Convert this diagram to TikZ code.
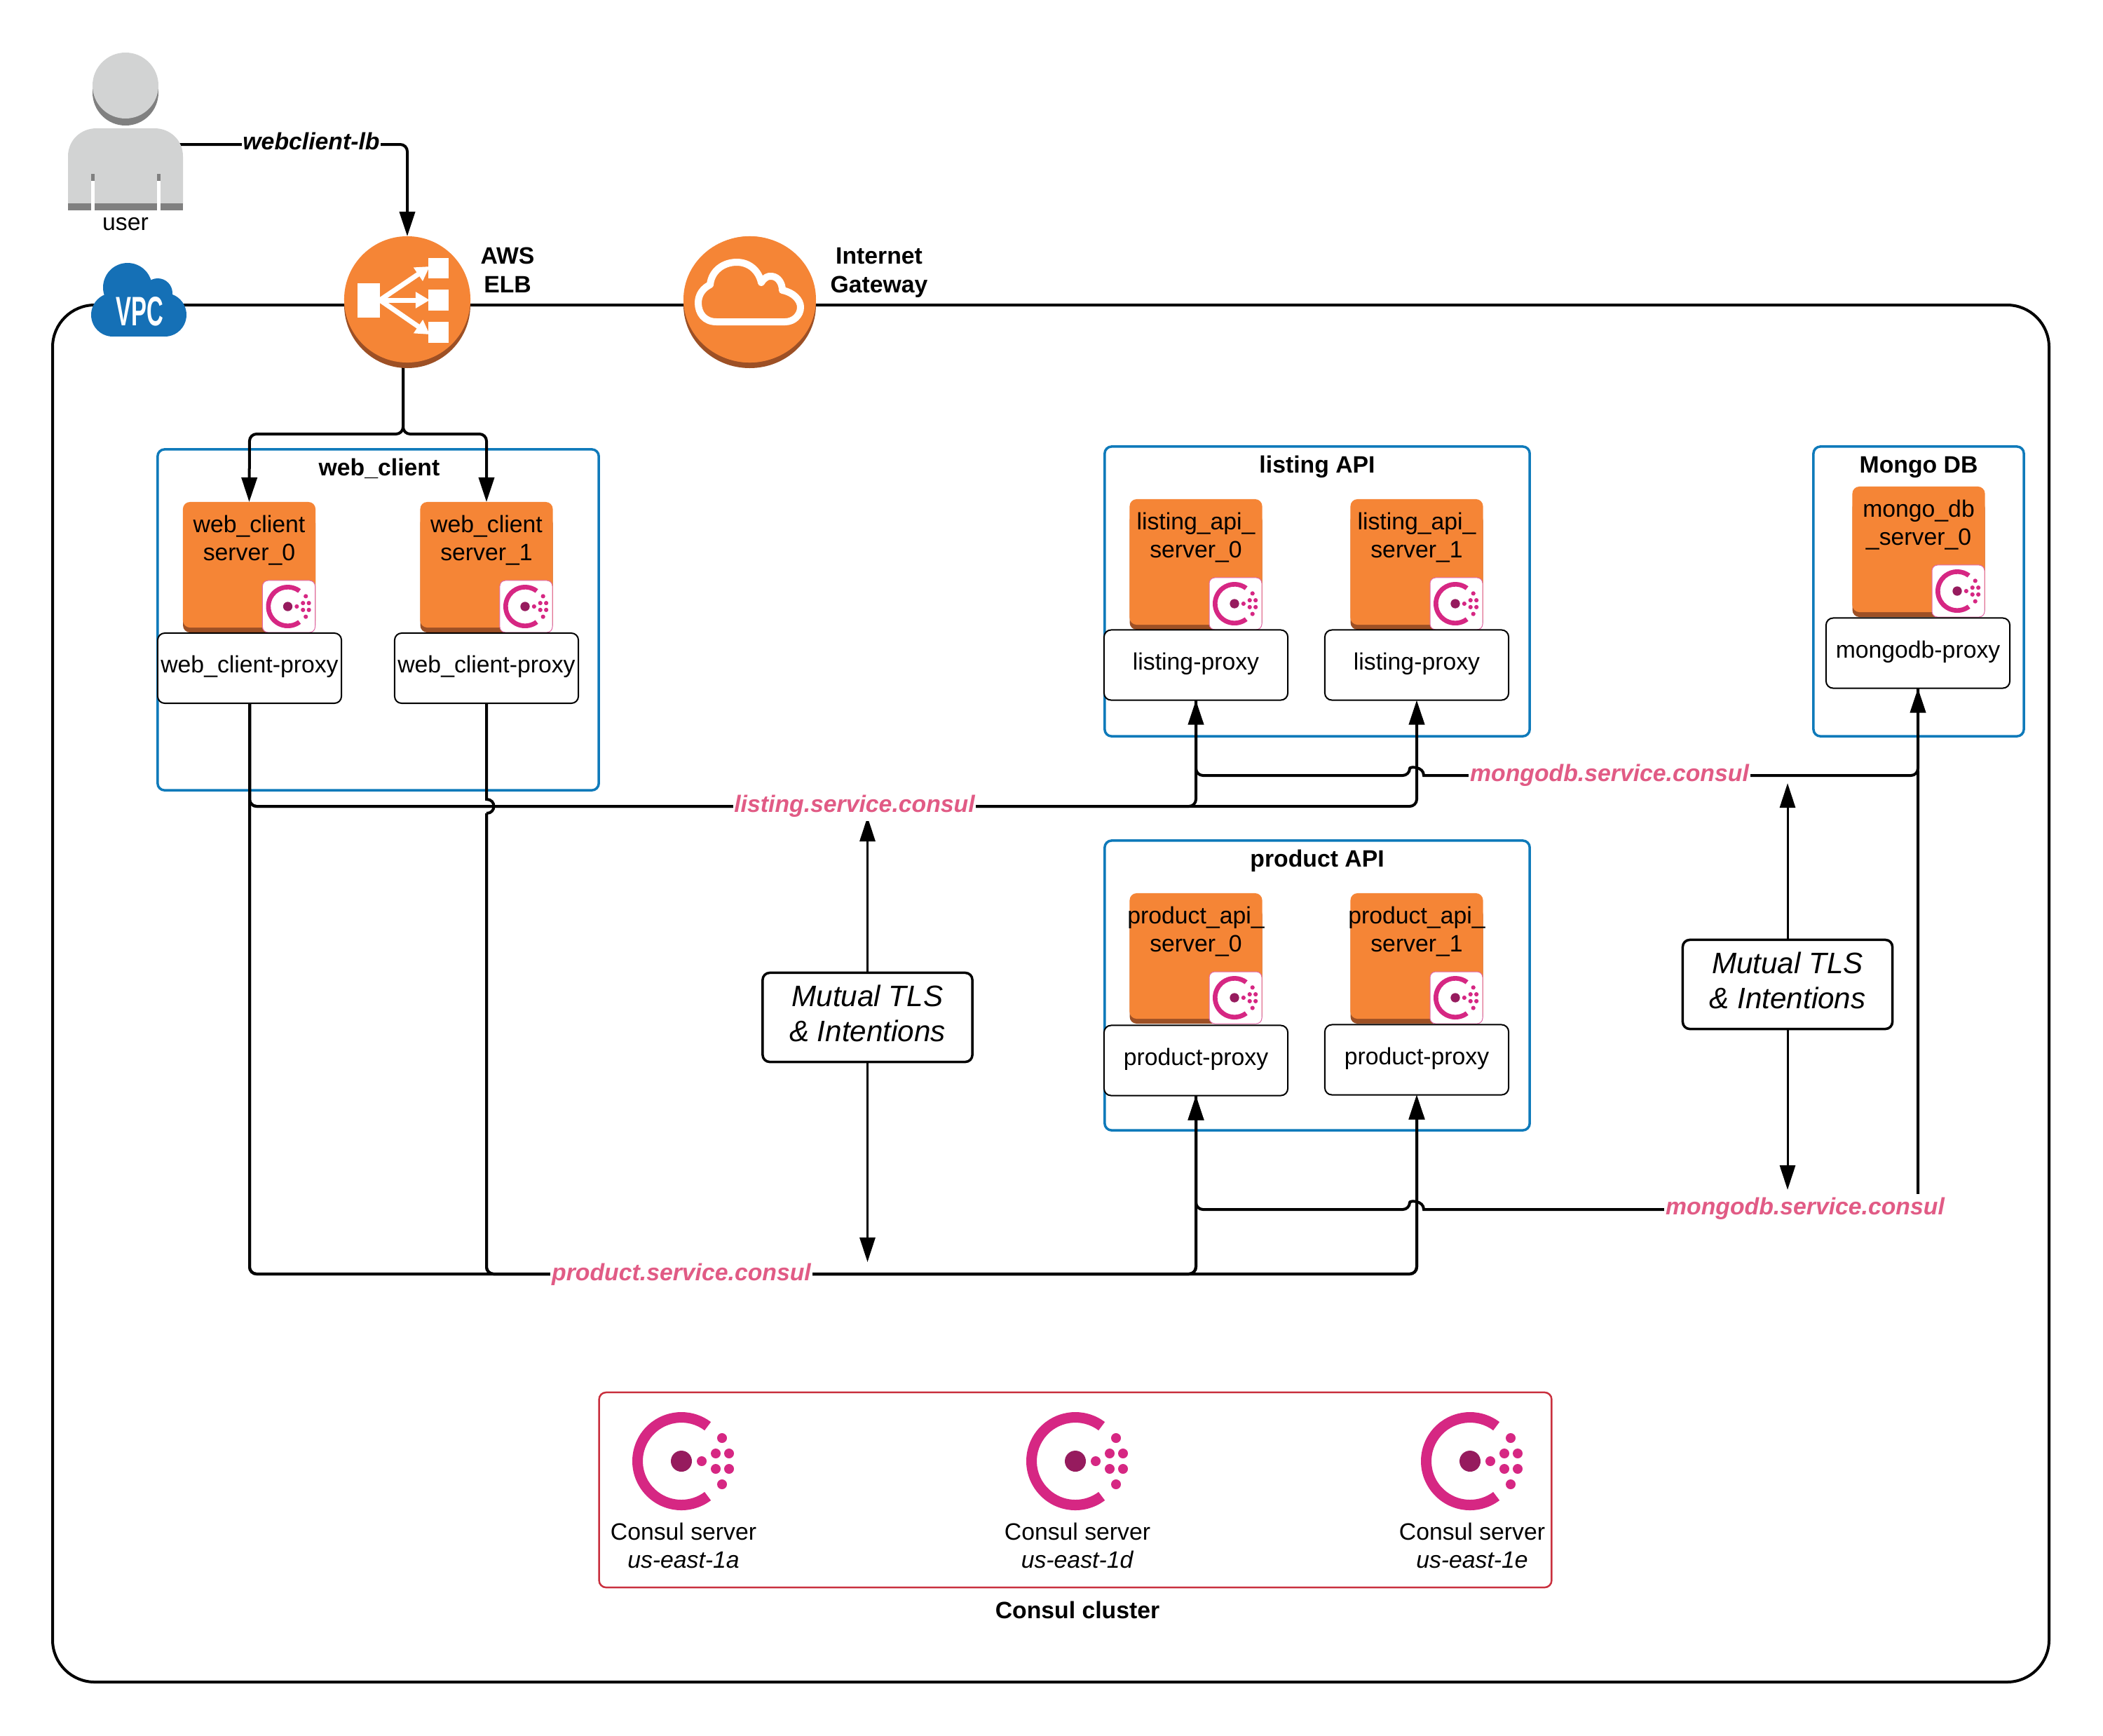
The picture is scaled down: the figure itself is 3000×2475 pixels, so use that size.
\documentclass[tikz,border=0pt]{standalone}
\usepackage{fontspec}
\usepackage{graphicx}
\setmainfont{Liberation Sans}
\usetikzlibrary{arrows.meta,backgrounds}
\definecolor{awsorange}{HTML}{F58536}
\definecolor{awsdark}{HTML}{9D5025}
\definecolor{grouplue}{HTML}{0F7ABA}
\definecolor{vpcblue}{HTML}{1570B6}
\definecolor{consulpink}{HTML}{D62783}
\definecolor{consuldark}{HTML}{961B5E}
\definecolor{svcpink}{HTML}{E15B85}
\definecolor{clusterred}{HTML}{C9303E}
\definecolor{usergray}{HTML}{D2D3D3}
\definecolor{userdark}{HTML}{808080}
\newcommand{\bodyfont}{\fontsize{9.6}{11.4}\selectfont}
\newcommand{\bigfont}{\fontsize{12}{14.2}\selectfont}
\tikzset{
  x=0.01cm,y=-0.01cm,
  every node/.style={font=\bodyfont,inner sep=0pt,outer sep=0pt,align=center},
  groupbox/.style={draw=grouplue,line width=0.035cm,rounded corners=0.1cm,minimum width=#1,fill=none},
  proxybox/.style={draw=black,fill=white,line width=0.02cm,rounded corners=0.1cm,minimum width=2.62cm,minimum height=1cm,text height=0.24cm,text depth=0.104cm},
  srvbody/.style={fill=awsorange,rounded corners=0.1cm,minimum width=1.89cm,minimum height=1.79cm},
  tilebox/.style={fill=white,draw=consulpink!70,line width=0.01cm,rounded corners=0.08cm,minimum width=0.75cm,minimum height=0.74cm},
  mtlsbox/.style={draw=black,fill=white,line width=0.035cm,rounded corners=0.1cm,minimum width=2.99cm,minimum height=1.27cm},
  mtlstext/.style={font=\bigfont\itshape},
  svclabel/.style={fill=white,text=svcpink,font=\bodyfont\bfseries\itshape,inner xsep=0.5pt,inner ysep=1.5pt},
  titlelabel/.style={font=\bodyfont\bfseries},
  bus/.style={draw=black,line width=0.04cm,rounded corners=0.1cm},
  busarrow/.style={bus,-{Triangle[length=0.35cm,width=0.22cm]}},
  mtlsarrow/.style={draw=black,line width=0.03cm,-{Triangle[length=0.35cm,width=0.22cm]}},
  iconarrow/.style={white,line width=0.07cm,-{Triangle[length=0.2cm,width=0.22cm]}},
  circleicon/.style={circle,fill=awsorange,minimum size=#1},
}
% x, y of the centre dot, scale
\newcommand{\consullogo}[3]{%
  \begin{scope}[shift={(#1,#2)},scale=#3]
    \fill[consulpink] (53:70) arc[start angle=53,end angle=307,radius=70] -- (307:55) arc[start angle=307,end angle=53,radius=55] -- cycle;
    \fill[consuldark] (0,0) circle[radius=15];
    \fill[consulpink] (29,0) circle[radius=7] (49,-11) circle[radius=7] (68,-11) circle[radius=7]
      (49,11) circle[radius=7] (68,11) circle[radius=7] (58,-33) circle[radius=7] (58,33) circle[radius=7];
  \end{scope}}
% id, centre x, top y, text
\newcommand{\serverbox}[4]{%
  \fill[awsdark,rounded corners=0.1cm] ({#2-94.5},{#3+20}) rectangle ({#2+94.5},{#3+186});
  \node[srvbody] (#1) at (#2,{#3+89.5}) {};
  \node (#1t) at (#2,{#3+54.5}) {#4};
  \node[tilebox] (#1c) at ({#2+94-37.5},{#3+149}) {};
  \consullogo{#2+55}{#3+149}{0.443}}
\begin{document}
\begin{tikzpicture}
\useasboundingbox (0,0) rectangle (3000,2475);
\begin{pgfonlayer}{background}
  \fill[white] (0,0) rectangle (3000,2475);
  \draw[black,line width=0.04cm,rounded corners=0.6cm] (75,435) rectangle (2923,2399);
  \node[groupbox=6.29cm,minimum height=4.86cm] (gweb) at (539.5,884) {};
  \node[groupbox=6.06cm,minimum height=4.13cm] (glist) at (1879,843.5) {};
  \node[groupbox=3cm,minimum height=4.13cm] (gmongo) at (2737,843.5) {};
  \node[groupbox=6.06cm,minimum height=4.13cm] (gprod) at (1879,1405.5) {};
  \node[draw=clusterred,line width=0.025cm,rounded corners=0.1cm,minimum width=13.58cm,minimum height=2.78cm] (gconsul) at (1534,2125) {};
\end{pgfonlayer}

% user
\fill[userdark] (179,132) ellipse[x radius=47,y radius=47];
\fill[usergray] (179,122) ellipse[x radius=47,y radius=47];
\fill[usergray] (97,292) -- (97,223) .. controls (97,200) and (115,183) .. (138,183) -- (220,183) .. controls (243,183) and (261,200) .. (261,223) -- (261,292) -- cycle;
\fill[userdark] (97,290) rectangle (261,300);
\fill[userdark] (130,248) rectangle (135,258);
\fill[userdark] (224,248) rectangle (229,258);
\fill[white] (130,258) rectangle (135,300);
\fill[white] (224,258) rectangle (229,300);
\node (usertext) at (179,320) {user};
\coordinate (userport) at (250,206);

% VPC cloud
\fill[vpcblue] (182,410) circle[radius=35];
\fill[vpcblue] (225,418) circle[radius=21];
\fill[vpcblue] (161,449) circle[radius=31];
\fill[vpcblue] (235,449) circle[radius=31];
\fill[vpcblue] (161,425) rectangle (235,480);
\node[text=white,font=\fontsize{16.7}{16.7}\selectfont\bfseries] (vpctext) at (199.5,444) {\scalebox{0.56}[1]{VPC}};

% ELB
\fill[awsdark] (581,435) circle[radius=90];
\node[circleicon=1.8cm] (elb) at (581,427) {};
\draw[iconarrow] (542,428) -- (613,380);
\draw[iconarrow] (542,428) -- (613,428);
\draw[iconarrow] (542,428) -- (613,477);
\fill[white] (510,404) rectangle (542,453);
\fill[white] (611,368) rectangle (640,397);
\fill[white] (611,413) rectangle (640,443);
\fill[white] (611,459) rectangle (640,489);
\node[titlelabel] (elbtext) at (724,385) {AWS\\[0.3pt]ELB};
\coordinate (elbout) at (575,515);

% Internet gateway
\fill[awsdark] (1069.5,435) ellipse[x radius=94.5,y radius=90];
\node[circleicon=1.8cm] (igw) at (1069.5,427) {};
\fill[awsorange] (1069.5,427) ellipse[x radius=94.5,y radius=90];
\draw[white,line width=0.1cm,line join=round] (1022,459) .. controls (1005,459) and (996,447) .. (996,432) .. controls (996,420) and (1003,411) .. (1013,406) .. controls (1015,386) and (1032,374) .. (1051,374) .. controls (1068,374) and (1082,385) .. (1086,403) .. controls (1090,396) and (1096,393) .. (1101,394) .. controls (1111,395) and (1116,405) .. (1116,414) .. controls (1132,417) and (1142,428) .. (1142,438) .. controls (1142,450) and (1132,459) .. (1120,459) -- cycle;
\node[titlelabel] (igwtext) at (1254,389) {Internet\\[0.3pt]Gateway};

% group titles
\node[titlelabel] (gwebt) at (541,668) {web\_client};
\node[titlelabel] (glistt) at (1879,666) {listing API};
\node[titlelabel] (gmongot) at (2737,666) {Mongo DB};
\node[titlelabel] (gprodt) at (1879,1228) {product API};

% servers
\serverbox{ws0}{355.5}{716}{web\_client\\server\_0}
\serverbox{ws1}{694}{716}{web\_client\\server\_1}
\serverbox{ls0}{1706}{712}{listing\_api\_\\server\_0}
\serverbox{ls1}{2021}{712}{listing\_api\_\\server\_1}
\serverbox{ms0}{2737}{694}{mongo\_db\\\_server\_0}
\serverbox{ps0}{1706}{1274}{product\_api\_\\server\_0}
\serverbox{ps1}{2021}{1274}{product\_api\_\\server\_1}

% proxies
\node[proxybox] (wp0) at (356,953) {web\_client-proxy};
\node[proxybox] (wp1) at (694,953) {web\_client-proxy};
\node[proxybox] (lp0) at (1706,948.5) {listing-proxy};
\node[proxybox] (lp1) at (2021,948.5) {listing-proxy};
\node[proxybox] (mp0) at (2736,931.5) {mongodb-proxy};
\node[proxybox] (pp0) at (1706,1512.5) {product-proxy};
\node[proxybox] (pp1) at (2021,1511.5) {product-proxy};

% mutual TLS
\node[mtlsbox] (mt1) at (1237.5,1451) {};
\node[mtlstext] (mt1t) at (1237.5,1445) {Mutual TLS\\\& Intentions};
\node[mtlsbox] (mt2) at (2550,1404) {};
\node[mtlstext] (mt2t) at (2550,1398) {Mutual TLS\\\& Intentions};
\coordinate (mt1up) at (1237.5,1165);
\coordinate (mt1dn) at (1237.5,1800);
\coordinate (mt2up) at (2550,1117);
\coordinate (mt2dn) at (2550,1697);

% service labels
\node[svclabel] (wl) at (444,201) {\textcolor{black}{webclient-lb}};
\node[svclabel] (lsvc) at (1219,1150) {listing.service.consul};
\node[svclabel] (psvc) at (972,1818) {product.service.consul};
\node[svclabel] (msvc1) at (2296,1106) {mongodb.service.consul};
\node[svclabel] (msvc2) at (2575,1724) {mongodb.service.consul};

% Consul cluster
\consullogo{972}{2084}{1}
\consullogo{1534}{2084}{1}
\consullogo{2097}{2084}{1}
\node (c1) at (975,2204) {Consul server\\\textit{us-east-1a}};
\node (c2) at (1537,2204) {Consul server\\\textit{us-east-1d}};
\node (c3) at (2100,2204) {Consul server\\\textit{us-east-1e}};
\node[titlelabel] (cc) at (1537,2296) {Consul cluster};

% connectors
\begin{pgfonlayer}{background}
  \draw[busarrow] (userport) -- (581,206) -- (elb.north);
  \draw[busarrow] (elbout) -- (575,619) -- (356,619) -- (ws0.north);
  \draw[busarrow] (elbout) -- (575,619) -- (694,619) -- (ws1.north);
  % listing bus
  \draw[busarrow] (wp0.south) -- (356,1150) -- (1706,1150) -- (lp0.south);
  \draw[busarrow] (wp0.south) -- (356,1150) -- (2021,1150) -- (lp1.south);
  % product bus; the web_client_1 line hops over the listing bus
  \draw[busarrow] (wp0.south) -- (356,1817) -- (1706,1817) -- (pp0.south);
  \draw[busarrow] (wp0.south) -- (356,1817) -- (2021,1817) -- (pp1.south);
  \draw[draw=black,line width=0.04cm] (wp1.south) -- (694,1140) .. controls (708,1140) and (708,1160) .. (694,1160);
  \draw[draw=white,line width=0.06cm] (694,1143) -- (694,1148);
  \draw[draw=white,line width=0.06cm] (694,1153) -- (694,1157);
  \draw[busarrow] (694,1160) -- (694,1817) -- (1706,1817) -- (pp0.south);
  \draw[busarrow] (694,1160) -- (694,1817) -- (2021,1817) -- (pp1.south);
  % mongodb buses, hop over the lp1 and pp1 lines
  \draw[bus] (lp0.south) -- (1706,1106) -- (2011,1106) [sharp corners] .. controls (2011,1093) and (2031,1093) .. (2031,1106) [rounded corners=0.1cm] -- (2736,1106) -- (mp0.south);
  \draw[bus] (pp0.south) -- (1706,1725) -- (2011,1725) [sharp corners] .. controls (2011,1712) and (2031,1712) .. (2031,1725) [rounded corners=0.1cm] -- (2736,1725) -- (2736,1100);
  \draw[busarrow] (2736,1110) -- (mp0.south);
  \draw[mtlsarrow] (mt1.north) -- (mt1up);
  \draw[mtlsarrow] (mt1.south) -- (mt1dn);
  \draw[mtlsarrow] (mt2.north) -- (mt2up);
  \draw[mtlsarrow] (mt2.south) -- (mt2dn);
\end{pgfonlayer}
\end{tikzpicture}
\end{document}
